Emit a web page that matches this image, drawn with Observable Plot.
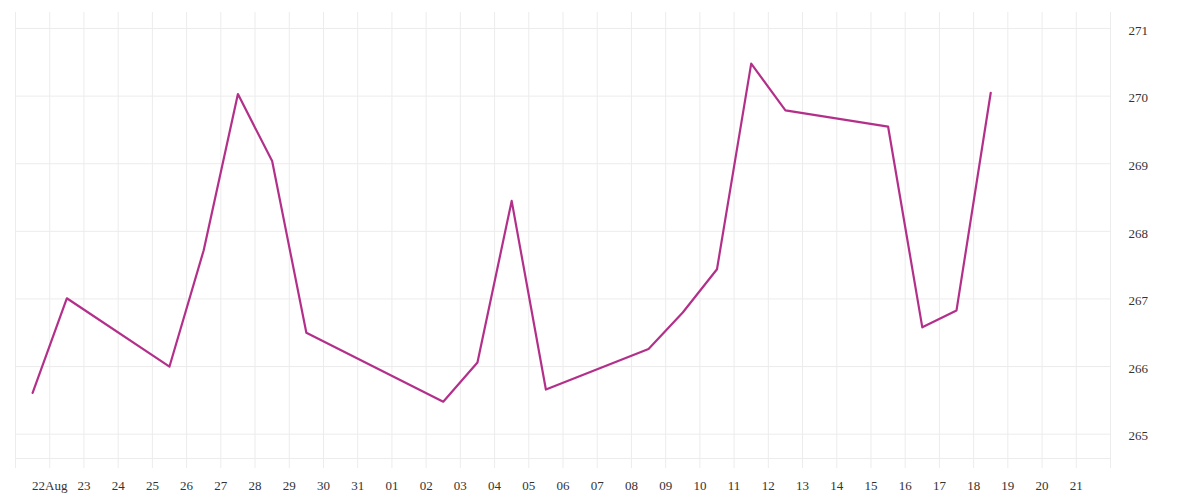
<!DOCTYPE html>
<html><head><meta charset="utf-8">
<script src="https://cdn.jsdelivr.net/npm/d3@7"></script>
<script src="https://cdn.jsdelivr.net/npm/@observablehq/plot@0.6"></script>
<style>body{margin:0;background:#fff}</style>
</head><body><div id="chart"></div>
<script>
const dates = ["2025-08-21","2025-08-22","2025-08-25","2025-08-26","2025-08-27","2025-08-28","2025-08-29",
  "2025-09-02","2025-09-03","2025-09-04","2025-09-05","2025-09-08","2025-09-09","2025-09-10","2025-09-11",
  "2025-09-12","2025-09-15","2025-09-16","2025-09-17","2025-09-18"];
const values = [265.61,267.01,266.00,267.72,270.03,269.04,266.50,
  265.48,266.06,268.45,265.66,266.26,266.80,267.44,270.48,
  269.79,269.55,266.58,266.83,270.05];
const yTicks = [265,266,267,268,269,270,271];
const xDomainDates = ["2025-08-21","2025-09-22"];
const yDomain = [264.64, 271.237];
const firstLabel = "22Aug";

const lineColor = "#b3308a";
const gridColor = "#ececec";
const textColor = "#333";

const data = dates.map((d, i) => ({date: new Date(d + "T12:00:00Z"), value: values[i]}));
const xDomain = xDomainDates.map(d => new Date(d + "T00:00:00Z"));
const dayTicks = d3.utcDay.range(xDomain[0], d3.utcDay.offset(xDomain[1], 1));
const fmt = d3.utcFormat("%d");
const tickFormat = (d) => {
  if (+d === +xDomain[0] || +d === +xDomain[1]) return "";
  if (+d === +dayTicks[1]) return firstLabel;
  return fmt(d);
};

const chart = Plot.plot({
  width: 1200,
  height: 500,
  marginLeft: 15,
  marginRight: 90,
  marginTop: 12,
  marginBottom: 42,
  style: {fontFamily: "'Liberation Serif', serif", fontSize: "13px", background: "#fff"},
  x: {type: "utc", domain: xDomain, label: null},
  y: {domain: yDomain, label: null},
  marks: [
    Plot.gridX(dayTicks, {stroke: gridColor, strokeOpacity: 1}),
    Plot.gridY(yTicks, {stroke: gridColor, strokeOpacity: 1}),
    Plot.ruleY([yDomain[0]], {stroke: gridColor}),
    Plot.axisX(dayTicks, {tickSize: 10, tickPadding: 12, stroke: gridColor, fill: textColor, tickFormat, fontSize: 13, label: null}),
    Plot.axisY(yTicks, {anchor: "right", tickSize: 0, tickPadding: 18, dy: 2, fill: textColor, fontSize: 13, tickFormat: "d", label: null}),
    Plot.line(data, {x: "date", y: "value", stroke: lineColor, strokeWidth: 2.2})
  ]
});
document.getElementById("chart").append(chart);
</script>
</body></html>
